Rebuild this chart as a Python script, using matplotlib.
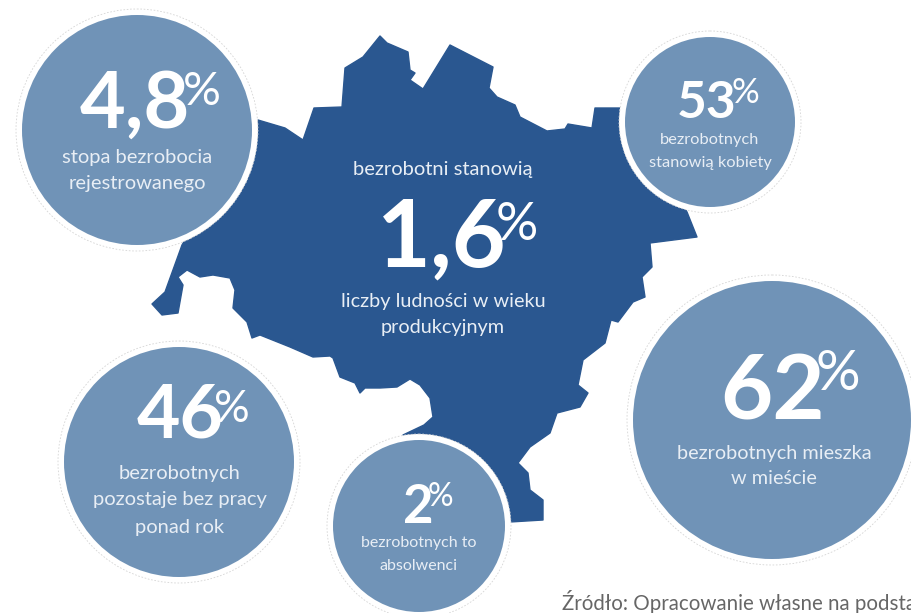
import matplotlib
matplotlib.use("Agg")
import matplotlib.pyplot as plt
from matplotlib.patches import Circle, Polygon

plt.rcParams['font.family'] = ['Lato', 'DejaVu Sans']

# map outline in pixels
map_x = [258, 285, 303, 314, 342, 345, 363, 380, 387, 408, 410, 415, 410, 423, 450,
         493, 489, 497, 515, 520, 547, 565, 568, 592, 595, 620, 687, 697, 650, 652,
         642, 645, 633, 618, 611, 605, 583, 578, 588, 580, 557, 550, 530, 518, 528, 530,
         543, 543, 510, 403, 424, 433, 430, 420, 410, 397, 380, 365, 360, 355, 340, 333,
         330, 313, 290, 260, 252, 247, 233, 235, 230, 213, 200, 187, 178, 183, 178, 162,
         152, 165, 182]
map_y = [120, 128, 140, 108, 107, 68, 57, 36, 43, 52, 70, 73, 80, 89, 45,
         67, 88, 97, 105, 117, 131, 129, 124, 128, 108, 108, 212, 237, 243, 267,
         277, 297, 302, 322, 320, 343, 360, 385, 393, 407, 413, 433, 447, 463, 473, 490,
         500, 520, 522, 435, 425, 417, 398, 385, 379, 387, 388, 388, 393, 383, 377, 358,
         356, 357, 347, 335, 338, 322, 308, 290, 278, 275, 277, 270, 277, 285, 313, 315,
         304, 292, 245]

big_numbers = ['4,8', '53', '62', '46', '2']
captions = [['stopa bezrobocia', 'rejestrowanego'],
            ['bezrobotnych', 'stanowią kobiety'],
            ['bezrobotnych mieszka', 'w mieście'],
            ['bezrobotnych', 'pozostaje bez pracy', 'ponad rok'],
            ['bezrobotnych to', 'absolwenci']]

centre_top = 'bezrobotni stanowią'
centre_number = '1,6'
centre_bottom = ['liczby ludności w wieku', 'produkcyjnym']
source = 'Źródło: Opracowanie własne na podsta'

# layout of the bubbles
cx = [137, 710, 772, 179, 419]
cy = [130, 122, 420, 462, 526]
radius = [115, 85, 139, 115, 86]
num_x = [135, 707, 773, 180, 418]
num_base = [128, 118, 420, 438, 523]
num_size = [57, 37, 65, 54, 38]
pct_x = [202, 745, 838, 232, 440]
pct_y = [92, 93, 375, 410, 497]
pct_size = [34, 25, 40, 32, 23]
cap_x = [137, 710, 774, 180, 419]
cap_y = [157, 140, 453, 473, 543]
cap_gap = [26, 23, 26, 27, 23]
cap_size = [14.5, 11.8, 14.3, 14.5, 11.5]

MAP_BLUE = '#2a5790'
BUBBLE = '#7093b7'

fig = plt.figure(figsize=(9.12, 6.13), dpi=100)
ax = fig.add_axes([0, 0, 1, 1])
ax.set_xlim(0, 912)
ax.set_ylim(613, 0)
ax.axis('off')

ax.add_patch(Polygon(list(zip(map_x, map_y)), closed=True, fc=MAP_BLUE, ec=MAP_BLUE,
                     lw=1, joinstyle='round', zorder=1))

for i in range(len(big_numbers)):
    c = (cx[i], cy[i])
    r = radius[i]
    ax.add_patch(Circle(c, r + 6, fc='white', ec='#d5d5d5', lw=0.6, ls=(0, (2, 2)), zorder=2))
    ax.add_patch(Circle(c, r, fc=BUBBLE, ec='none', zorder=3))
    ax.text(num_x[i], num_base[i], big_numbers[i], color='white', fontsize=num_size[i],
            fontweight='bold', ha='center', va='baseline', zorder=4)
    ax.text(pct_x[i], pct_y[i], '%', color='white', fontsize=pct_size[i],
            ha='center', va='center', zorder=5)
    for j, line in enumerate(captions[i]):
        ax.text(cap_x[i], cap_y[i] + j * cap_gap[i], line, color='#e8eef5',
                fontsize=cap_size[i], ha='center', va='center', zorder=4)

ax.text(443, 170, centre_top, color='#e8eef5', fontsize=14.5, ha='center', va='center', zorder=4)
ax.text(442, 266, centre_number, color='white', fontsize=67, fontweight='bold',
        ha='center', va='baseline', zorder=4)
ax.text(517, 226, '%', color='white', fontsize=38, ha='center', va='center', zorder=5)
for j, line in enumerate(centre_bottom):
    ax.text(443, 302 + j * 26, line, color='#e8eef5', fontsize=14.3, ha='center', va='center', zorder=4)

ax.text(562, 602, source, color='#666666', fontsize=14.8, ha='left', va='center', zorder=6)

fig.savefig('out.png', dpi=100)
